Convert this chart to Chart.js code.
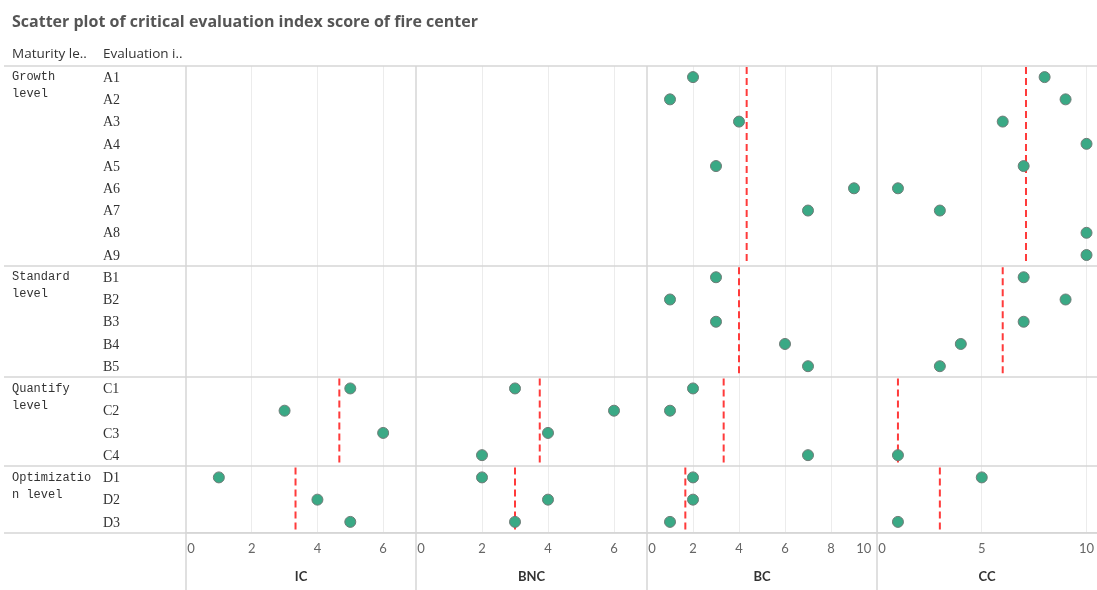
<!DOCTYPE html>
<html>
<head>
<meta charset="utf-8">
<script src="https://cdn.jsdelivr.net/npm/chart.js@4.4.1/dist/chart.umd.min.js"></script>
<style>
  html, body { margin: 0; padding: 0; background: #fff; }
  #wrap { width: 1097px; height: 590px; position: relative; }
</style>
</head>
<body>
<div id="wrap"><canvas id="scoreChart"></canvas></div>
<script>
// data
const chartTitle = 'Scatter plot of critical evaluation index score of fire center';
const headerLabels = ['Maturity le..', 'Evaluation i..'];
const maturityLevels = [['Growth', 'level'], ['Standard', 'level'], ['Quantify', 'level'], ['Optimizatio', 'n level']];
const levelSizes = [9, 5, 4, 3];
const indexLabels = ['A1', 'A2', 'A3', 'A4', 'A5', 'A6', 'A7', 'A8', 'A9',
  'B1', 'B2', 'B3', 'B4', 'B5', 'C1', 'C2', 'C3', 'C4', 'D1', 'D2', 'D3'];
const measures = ['IC', 'BNC', 'BC', 'CC'];
const icScores  = [null, null, null, null, null, null, null, null, null,
  null, null, null, null, null, 5, 3, 6, null, 1, 4, 5];
const bncScores = [null, null, null, null, null, null, null, null, null,
  null, null, null, null, null, 3, 6, 4, 2, 2, 4, 3];
const bcScores  = [2, 1, 4, null, 3, 9, 7, null, null,
  3, 1, 3, 6, 7, 2, 1, null, 7, 2, 2, 1];
const ccScores  = [8, 9, 6, 10, 7, 1, 3, 10, 10,
  7, 9, 7, 4, 3, null, null, null, 1, 5, null, 1];
const axisMax = [7, 7, 10, 10.5];
const axisStep = [2, 2, 2, 5];

const scoreSets = [icScores, bncScores, bcScores, ccScores];
const levelStarts = levelSizes.map((n, i) => levelSizes.slice(0, i).reduce((a, b) => a + b, 0));

const datasets = [];
measures.forEach((m, k) => {
  datasets.push({
    label: m,
    xAxisID: 'x' + k,
    yAxisID: 'y',
    data: scoreSets[k].map((v, i) => v === null ? null : { x: v, y: i }).filter(p => p),
    backgroundColor: '#3aa985',
    borderColor: '#6e7c77',
    borderWidth: 1,
    pointRadius: 5.5,
    pointHoverRadius: 5.5
  });
  // average line per maturity level (red dashed)
  levelSizes.forEach((n, g) => {
    const vals = scoreSets[k].slice(levelStarts[g], levelStarts[g] + n).filter(v => v !== null);
    if (!vals.length) return;
    const avg = vals.reduce((a, b) => a + b, 0) / vals.length;
    datasets.push({
      label: m + ' avg',
      xAxisID: 'x' + k,
      yAxisID: 'y',
      data: [{ x: avg, y: levelStarts[g] - 0.45 }, { x: avg, y: levelStarts[g] + n - 0.55 }],
      showLine: true,
      borderColor: '#ff3b3b',
      borderWidth: 2,
      borderDash: [7, 4],
      pointRadius: 0,
      pointHoverRadius: 0
    });
  });
});

const panelWeights = [230, 231, 230, 220];
const scales = {
  y: {
    type: 'linear',
    min: -0.5,
    max: indexLabels.length - 0.5,
    reverse: true,
    ticks: { display: false },
    grid: { display: false },
    border: { display: false },
    afterFit: s => { s.width = 186; }
  }
};
measures.forEach((m, k) => {
  scales['x' + k] = {
    type: 'linear',
    position: 'bottom',
    stack: 'panels',
    stackWeight: panelWeights[k],
    min: 0,
    max: axisMax[k],
    ticks: {
      stepSize: axisStep[k],
      includeBounds: false,
      autoSkip: false,
      maxRotation: 0,
      padding: 8,
      color: '#666',
      font: { family: 'Lato', size: 13 },
      callback: v => {
        // nudge edge labels inwards like the original
        if (v === 0) return '   0';
        if (v === axisMax[k]) return v + '        ';
        return String(v);
      }
    },
    grid: {
      color: c => (c.tick && c.tick.value === 0) ? 'rgba(0,0,0,0)' : '#ececec',
      drawTicks: false
    },
    border: { display: true, color: '#d6d6d6', width: 1.5 },
    title: {
      display: true,
      text: m,
      color: '#333',
      font: { family: 'Lato', size: 13, weight: 'bold' },
      padding: { top: 12, bottom: 5 }
    },
    afterFit: s => {
      s.height = 57;
      s.paddingLeft = 0;
      s.paddingRight = 0;
    }
  };
});

const framePlugin = {
  id: 'frame',
  beforeDatasetsDraw(chart) {
    const { ctx, chartArea } = chart;
    const y = chart.scales.y;
    ctx.save();
    ctx.strokeStyle = '#d6d6d6';
    ctx.lineWidth = 1.5;
    const bounds = levelStarts.map(s => s - 0.5).concat([indexLabels.length - 0.5]);
    bounds.forEach(b => {
      const py = Math.round(y.getPixelForValue(b));
      ctx.beginPath(); ctx.moveTo(4, py); ctx.lineTo(chart.width, py); ctx.stroke();
    });
    measures.forEach((m, k) => {
      const px = Math.round(chart.scales['x' + k].left);
      ctx.beginPath(); ctx.moveTo(px, chartArea.top); ctx.lineTo(px, chart.height); ctx.stroke();
    });
    ctx.restore();
  },
  afterDraw(chart) {
    const { ctx } = chart;
    const y = chart.scales.y;
    ctx.save();
    ctx.textBaseline = 'middle';
    ctx.textAlign = 'left';
    ctx.fillStyle = '#555';
    ctx.font = 'bold 16px "Open Sans"';
    ctx.fillText(chartTitle, 12, 22);
    ctx.fillStyle = '#333';
    ctx.font = '13.5px "Open Sans"';
    ctx.fillText(headerLabels[0], 12, 54);
    ctx.fillText(headerLabels[1], 103, 54);
    ctx.font = '12px "Liberation Mono"';
    maturityLevels.forEach((lines, g) => {
      const py = y.getPixelForValue(levelStarts[g]);
      lines.forEach((t, j) => ctx.fillText(t, 12, py + j * 17));
    });
    ctx.font = '14px "Liberation Serif"';
    indexLabels.forEach((t, i) => ctx.fillText(t, 103, y.getPixelForValue(i) + 1));
    ctx.restore();
  }
};

new Chart(document.getElementById('scoreChart'), {
  type: 'scatter',
  data: { datasets },
  options: {
    responsive: true,
    maintainAspectRatio: false,
    animation: false,
    layout: { autoPadding: false, padding: { top: 66, left: 0, right: 0, bottom: 0 } },
    plugins: { legend: { display: false }, tooltip: { enabled: false } },
    scales
  },
  plugins: [framePlugin]
});
</script>
</body>
</html>
